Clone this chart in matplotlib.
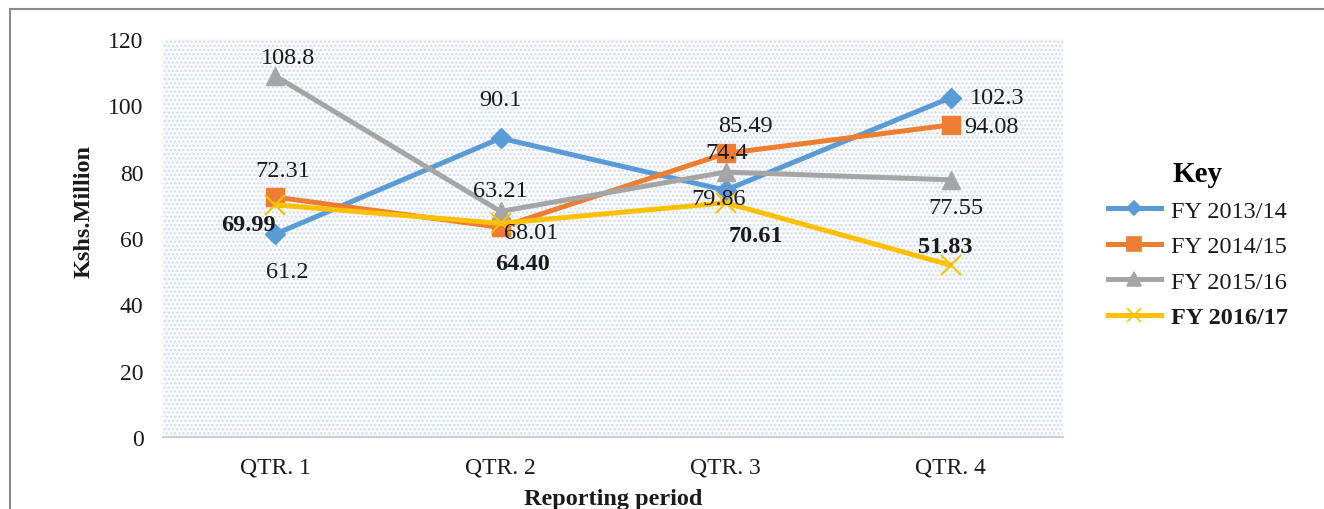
"""Quarterly expenditure line chart, FY 2013/14 - FY 2016/17."""

import matplotlib

matplotlib.use("Agg")
import matplotlib.pyplot as plt
from matplotlib.lines import Line2D
from matplotlib.patches import Rectangle

plt.rcParams["font.family"] = ["Liberation Serif", "DejaVu Serif"]

quarters = ["QTR. 1", "QTR. 2", "QTR. 3", "QTR. 4"]
series_names = ["FY 2013/14", "FY 2014/15", "FY 2015/16", "FY 2016/17"]
fy_2013_14 = [61.2, 90.1, 74.4, 102.3]
fy_2014_15 = [72.31, 63.21, 85.49, 94.08]
fy_2015_16 = [108.8, 68.01, 79.86, 77.55]
fy_2016_17 = [69.99, 64.40, 70.61, 51.83]
label_text = [
    ["61.2", "90.1", "74.4", "102.3"],
    ["72.31", "63.21", "85.49", "94.08"],
    ["108.8", "68.01", "79.86", "77.55"],
    ["69.99", "64.40", "70.61", "51.83"],
]

colors = ["#5B9BD5", "#ED7D31", "#A5A5A5", "#FFC000"]
markers = ["D", "s", "^", "x"]
msizes = [10, 13, 13, 14]
# label offsets in pixels from each point (as laid out in the original)
offsets = [
    [(12, -37), (0, 39), (1, 38), (47, 0)],
    [(7, 27), (0, 37), (20, 28), (41, -2)],
    [(12, 19), (31, -21), (-7, -26), (5, -28)],
    [(-27, -20), (22, -40), (30, -33), (-5, 19)],
]
bold_labels = [False, False, False, True]

fig = plt.figure(figsize=(13.24, 5.10), dpi=100)
ax = fig.add_axes([0.1231, 0.1412, 0.6798, 0.7804])

# dotted plot-area fill
ax.add_patch(Rectangle((0, 0), 1, 1, transform=ax.transAxes, facecolor="#f8fafd",
                       edgecolor="#cfdcea", hatch="....", linewidth=0, zorder=0))

x = range(len(quarters))
all_series = [fy_2013_14, fy_2014_15, fy_2015_16, fy_2016_17]
for i, vals in enumerate(all_series):
    mew = 1.5 if markers[i] == "x" else 1
    ax.plot(x, vals, color=colors[i], linewidth=3.6, marker=markers[i],
            markersize=msizes[i], markeredgewidth=mew, zorder=3 + i,
            solid_capstyle="round")
    for j, v in enumerate(vals):
        ax.annotate(label_text[i][j], (j, v), textcoords="offset pixels",
                    xytext=offsets[i][j], ha="center", va="center",
                    fontsize=17.5, color="#1a1a1a",
                    fontweight="bold" if bold_labels[i] else "normal", zorder=10)

ax.set_xlim(-0.5, 3.5)
ax.set_ylim(0, 120)
ax.set_yticks(range(0, 121, 20))
ax.set_xticks(list(x))
ax.set_xticklabels(quarters)
ax.tick_params(axis="both", length=0, labelsize=17, colors="#1a1a1a")
ax.tick_params(axis="y", pad=14)
ax.tick_params(axis="x", pad=14)
for side in ["top", "right", "left"]:
    ax.spines[side].set_visible(False)
ax.spines["bottom"].set_color("#d0d0d0")
ax.spines["bottom"].set_linewidth(1.5)

ax.set_ylabel("Kshs.Million", fontsize=17.5, fontweight="bold", color="#1a1a1a")
ax.yaxis.set_label_coords(-0.076, 0.568)
fig.text(0.463, 0.0, "Reporting period", fontsize=17.5, fontweight="bold",
         color="#1a1a1a", ha="center", va="bottom")

handles = [Line2D([0], [0], color=colors[i], linewidth=3.6, marker=markers[i],
                  markersize=msizes[i] * 0.75, markeredgewidth=1.2)
           for i in range(4)]
leg = fig.legend(handles, series_names, loc="center left",
                 bbox_to_anchor=(0.820, 0.52), frameon=False, fontsize=17.5,
                 title="Key", handlelength=2.2, handletextpad=0.4,
                 labelspacing=0.55)
leg.get_title().set_fontsize(21)
leg.get_title().set_fontweight("bold")
leg.get_texts()[3].set_fontweight("bold")
for t in leg.get_texts():
    t.set_color("#1a1a1a")

# outer frame lines (top and left)
fig.add_artist(Line2D([10 / 1324, 1.0], [1 - 10 / 510, 1 - 10 / 510],
                      transform=fig.transFigure, color="#8a8a8a", linewidth=1.5))
fig.add_artist(Line2D([10 / 1324, 10 / 1324], [0.0, 1 - 10 / 510],
                      transform=fig.transFigure, color="#8a8a8a", linewidth=1.5))

fig.savefig("out.png", dpi=100)
